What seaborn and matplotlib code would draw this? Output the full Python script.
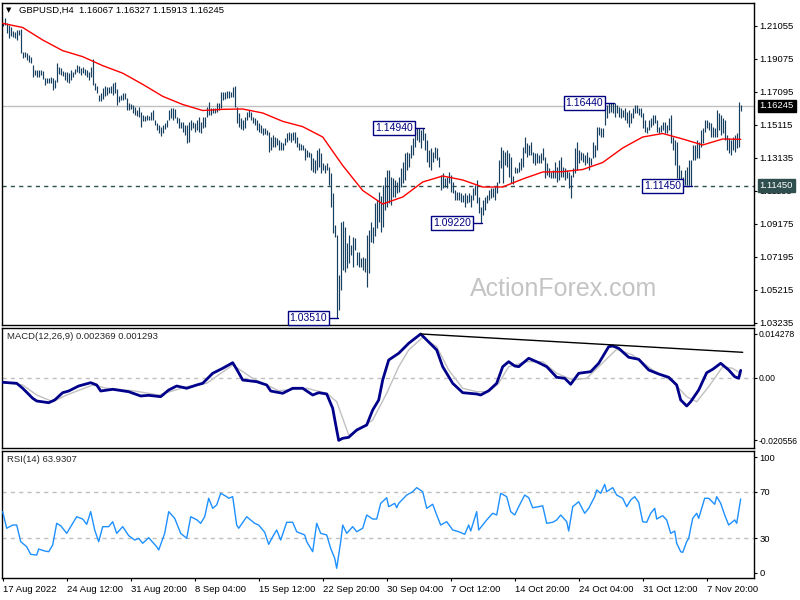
import numpy as np
import matplotlib
matplotlib.use("Agg")
import matplotlib.pyplot as plt
import seaborn as sns

# ------------------------------------------------
# DATA
# ------------------------------------------------
high = [
    1.2124, 1.2150, 1.2120, 1.2110, 1.2100, 1.2076, 1.2070, 1.2080, 1.2080, 1.2084,
    1.1950, 1.1950, 1.1940, 1.1930, 1.1920, 1.1870, 1.1840, 1.1840, 1.1840, 1.1840,
    1.1836, 1.1790, 1.1790, 1.1790, 1.1800, 1.1790, 1.1780, 1.1880, 1.1856, 1.1850,
    1.1836, 1.1830, 1.1830, 1.1820, 1.1840, 1.1830, 1.1844, 1.1870, 1.1864, 1.1850,
    1.1856, 1.1844, 1.1840, 1.1830, 1.1860, 1.1904, 1.1760, 1.1744, 1.1690, 1.1700,
    1.1730, 1.1744, 1.1736, 1.1736, 1.1744, 1.1760, 1.1770, 1.1724, 1.1684, 1.1690,
    1.1700, 1.1704, 1.1670, 1.1640, 1.1636, 1.1630, 1.1620, 1.1600, 1.1620, 1.1590,
    1.1570, 1.1564, 1.1570, 1.1564, 1.1590, 1.1600, 1.1540, 1.1520, 1.1510, 1.1500,
    1.1510, 1.1520, 1.1540, 1.1600, 1.1610, 1.1610, 1.1604, 1.1560, 1.1550, 1.1530,
    1.1530, 1.1510, 1.1510,
    1.1530, 1.1540, 1.1530, 1.1520, 1.1540, 1.1560, 1.1530, 1.1560, 1.1560, 1.1620,
    1.1650, 1.1610, 1.1610, 1.1610, 1.1640, 1.1640, 1.1710, 1.1710, 1.1710, 1.1716,
    1.1716, 1.1710, 1.1740, 1.1744, 1.1620, 1.1580, 1.1550, 1.1540, 1.1560, 1.1590,
    1.1600, 1.1590, 1.1560, 1.1550, 1.1540, 1.1520, 1.1510, 1.1490, 1.1490, 1.1480,
    1.1470, 1.1440, 1.1450, 1.1440, 1.1430, 1.1420, 1.1410, 1.1400, 1.1430, 1.1460,
    1.1470, 1.1460, 1.1470, 1.1470, 1.1440, 1.1400, 1.1396, 1.1390, 1.1370, 1.1360,
    1.1350, 1.1340, 1.1310, 1.1300, 1.1360, 1.1370, 1.1340, 1.1280, 1.1270, 1.1280,
    1.1260, 1.1220, 1.1100, 1.0910, 1.0850, 1.0610, 1.0930, 1.0936, 1.0900, 1.0800,
    1.0850, 1.0790, 1.0840, 1.0830, 1.0750, 1.0750, 1.0710, 1.0720, 1.0710, 1.0850,
    1.0880, 1.0930, 1.0900,
    1.1042, 1.1060, 1.1108, 1.1084, 1.1150, 1.1200, 1.1240, 1.1240, 1.1200, 1.1190,
    1.1180, 1.1170, 1.1200, 1.1250, 1.1290, 1.1340, 1.1350, 1.1340, 1.1390, 1.1430,
    1.1490, 1.1490, 1.1490, 1.1480, 1.1494, 1.1460, 1.1420, 1.1360, 1.1370, 1.1350,
    1.1380, 1.1370, 1.1320, 1.1210, 1.1220, 1.1190, 1.1200, 1.1230, 1.1210, 1.1170,
    1.1120, 1.1110, 1.1110, 1.1100, 1.1090, 1.1100, 1.1090, 1.1100, 1.1090, 1.1130,
    1.1150, 1.1180, 1.1080, 1.1020, 1.1060, 1.1080, 1.1090, 1.1120, 1.1130, 1.1130,
    1.1140, 1.1170, 1.1300, 1.1380, 1.1360, 1.1350, 1.1360, 1.1340, 1.1320, 1.1204,
    1.1260, 1.1250, 1.1290, 1.1310, 1.1380, 1.1440, 1.1400, 1.1390, 1.1410, 1.1350,
    1.1340, 1.1340, 1.1330, 1.1340, 1.1370, 1.1320, 1.1280, 1.1250, 1.1230, 1.1240,
    1.1290, 1.1260,
    1.1300, 1.1320, 1.1260, 1.1250, 1.1240, 1.1230, 1.1210, 1.1250, 1.1370, 1.1410,
    1.1360, 1.1350, 1.1340, 1.1330, 1.1350, 1.1320, 1.1310, 1.1410, 1.1390, 1.1500,
    1.1500, 1.1490, 1.1490, 1.1610, 1.1630, 1.1640, 1.1642, 1.1644, 1.1640, 1.1630,
    1.1620, 1.1610, 1.1600, 1.1610, 1.1590, 1.1600, 1.1580, 1.1610, 1.1630, 1.1630,
    1.1610, 1.1610, 1.1580, 1.1540, 1.1500, 1.1540, 1.1550, 1.1570, 1.1570, 1.1540,
    1.1500, 1.1510, 1.1530, 1.1530, 1.1510, 1.1550, 1.1570, 1.1440, 1.1420, 1.1410,
    1.1270, 1.1240, 1.1200, 1.1240, 1.1260, 1.1300, 1.1300, 1.1390, 1.1390, 1.1420,
    1.1410, 1.1480, 1.1490, 1.1540, 1.1540, 1.1530, 1.1520, 1.1500, 1.1490, 1.1600,
    1.1580, 1.1570, 1.1552, 1.1540, 1.1450, 1.1432, 1.1420, 1.1438, 1.1450, 1.1462,
    1.1650, 1.16327,
]
low = [
    1.2104, 1.2110, 1.2060, 1.2030, 1.2044, 1.2040, 1.2030, 1.2020, 1.2050, 1.1940,
    1.1910, 1.1920, 1.1900, 1.1890, 1.1880, 1.1800, 1.1810, 1.1800, 1.1800, 1.1810,
    1.1784, 1.1750, 1.1760, 1.1760, 1.1760, 1.1720, 1.1730, 1.1770, 1.1816, 1.1810,
    1.1804, 1.1780, 1.1770, 1.1760, 1.1780, 1.1800, 1.1816, 1.1830, 1.1820, 1.1810,
    1.1820, 1.1810, 1.1800, 1.1780, 1.1800, 1.1750, 1.1720, 1.1700, 1.1656, 1.1656,
    1.1664, 1.1684, 1.1690, 1.1700, 1.1700, 1.1690, 1.1700, 1.1630, 1.1650, 1.1660,
    1.1660, 1.1664, 1.1600, 1.1600, 1.1604, 1.1580, 1.1570, 1.1564, 1.1560, 1.1500,
    1.1536, 1.1536, 1.1540, 1.1540, 1.1540, 1.1540, 1.1510, 1.1480, 1.1460, 1.1444,
    1.1460, 1.1484, 1.1500, 1.1540, 1.1550, 1.1540, 1.1550, 1.1520, 1.1490, 1.1490,
    1.1470, 1.1450, 1.1404,
    1.1410, 1.1480, 1.1490, 1.1470, 1.1480, 1.1470, 1.1460, 1.1490, 1.1500, 1.1560,
    1.1570, 1.1570, 1.1580, 1.1580, 1.1590, 1.1600, 1.1610, 1.1660, 1.1664, 1.1670,
    1.1670, 1.1680, 1.1680, 1.1620, 1.1520, 1.1500, 1.1484, 1.1480, 1.1490, 1.1540,
    1.1560, 1.1540, 1.1520, 1.1510, 1.1480, 1.1470, 1.1460, 1.1450, 1.1456, 1.1450,
    1.1350, 1.1360, 1.1380, 1.1380, 1.1390, 1.1360, 1.1360, 1.1360, 1.1390, 1.1410,
    1.1420, 1.1410, 1.1420, 1.1400, 1.1380, 1.1360, 1.1360, 1.1360, 1.1300, 1.1320,
    1.1320, 1.1240, 1.1230, 1.1220, 1.1240, 1.1260, 1.1220, 1.1240, 1.1220, 1.1240,
    1.1150, 1.1020, 1.0860, 1.0840, 1.0351, 1.0400, 1.0520, 1.0640, 1.0630, 1.0650,
    1.0680, 1.0730, 1.0660, 1.0760, 1.0670, 1.0660, 1.0660, 1.0640, 1.0630, 1.0540,
    1.0620, 1.0810, 1.0800,
    1.0844, 1.0892, 1.0928, 1.0868, 1.0900, 1.1000, 1.1020, 1.1042, 1.1030, 1.1080,
    1.1080, 1.1100, 1.1110, 1.1140, 1.1160, 1.1180, 1.1240, 1.1260, 1.1310, 1.1330,
    1.1380, 1.1420, 1.1410, 1.1370, 1.1420, 1.1360, 1.1290, 1.1260, 1.1240, 1.1290,
    1.1310, 1.1300, 1.1260, 1.1120, 1.1130, 1.1140, 1.1130, 1.1160, 1.1110, 1.1100,
    1.1060, 1.1060, 1.1060, 1.1050, 1.1050, 1.1020, 1.1040, 1.1050, 1.1020, 1.1060,
    1.1090, 1.1040, 1.0980, 1.0922, 1.0970, 1.1000, 1.1040, 1.1060, 1.1070, 1.1080,
    1.1060, 1.1100, 1.1160, 1.1250, 1.1160, 1.1270, 1.1260, 1.1200, 1.1160, 1.1156,
    1.1220, 1.1220, 1.1230, 1.1240, 1.1260, 1.1340, 1.1320, 1.1330, 1.1330, 1.1280,
    1.1270, 1.1280, 1.1280, 1.1280, 1.1300, 1.1190, 1.1210, 1.1200, 1.1190, 1.1190,
    1.1190, 1.1170,
    1.1180, 1.1200, 1.1200, 1.1180, 1.1190, 1.1130, 1.1070, 1.1200, 1.1220, 1.1240,
    1.1280, 1.1300, 1.1290, 1.1270, 1.1280, 1.1240, 1.1270, 1.1310, 1.1320, 1.1360,
    1.1450, 1.1440, 1.1440, 1.1510, 1.1550, 1.1580, 1.1590, 1.1580, 1.1560, 1.1580,
    1.1560, 1.1550, 1.1560, 1.1540, 1.1520, 1.1500, 1.1520, 1.1550, 1.1580, 1.1580,
    1.1570, 1.1560, 1.1490, 1.1470, 1.1460, 1.1480, 1.1500, 1.1510, 1.1520, 1.1470,
    1.1460, 1.1470, 1.1480, 1.1460, 1.1460, 1.1480, 1.1400, 1.1360, 1.1270, 1.1190,
    1.1150, 1.1180, 1.1150, 1.1148, 1.1150, 1.1152, 1.1145, 1.1300, 1.1300, 1.1310,
    1.1310, 1.1380, 1.1400, 1.1470, 1.1490, 1.1480, 1.1440, 1.1440, 1.1440, 1.1440,
    1.1480, 1.1450, 1.1462, 1.1420, 1.1360, 1.1342, 1.1330, 1.1360, 1.1348, 1.1372,
    1.1378, 1.15913,
]

# red moving average, sampled every 10 bars
ma_idx = list(range(0, 361, 10)) + [369]
ma_val = [1.2120, 1.2095, 1.2020, 1.1956, 1.1920, 1.1866, 1.1821, 1.1754, 1.1682, 1.1633,
          1.1597, 1.1604, 1.1606, 1.1582, 1.1532, 1.1500, 1.1438, 1.1267, 1.1117, 1.1036,
          1.1078, 1.1168, 1.1204, 1.1180, 1.1138, 1.1138, 1.1186, 1.1228, 1.1230, 1.1243,
          1.1285, 1.1372, 1.1438, 1.1459, 1.1426, 1.1390, 1.1426, 1.1424]

# MACD main line
macd_idx = [0, 7, 10, 15, 17, 23, 26, 30, 33, 38, 44, 47, 49, 55, 63, 69, 73, 79, 83, 87,
            92, 97, 100, 105, 110, 115, 117, 120, 127, 132, 134, 140, 145, 150, 155, 158, 162, 165, 167, 168,
            170, 173, 177, 182, 185, 188, 190, 193, 198, 203, 209, 212, 217, 220, 225, 230, 237, 239, 243, 247,
            250, 253, 256, 258, 263, 268, 272, 277, 281, 284, 288, 294, 298, 303, 305, 308, 313, 318, 323, 328,
            333, 337, 339, 342, 344, 348, 352, 355, 359, 363, 366, 368, 369]
macd_val = [-0.00154, -0.00187, -0.00350, -0.00678, -0.00766, -0.00822, -0.00733, -0.00494, -0.00439, -0.00275,
            -0.00167, -0.00242, -0.00439, -0.00383, -0.00462, -0.00602, -0.00580, -0.00625, -0.00406, -0.00275,
            -0.00350, -0.00242, -0.00187, 0.00141, 0.00304, 0.00488, 0.00272, -0.00079, -0.00134, -0.00242,
            -0.00439, -0.00514, -0.00350, -0.00350, -0.00570, -0.00494, -0.00537, -0.01005, -0.01716, -0.020556,
            -0.01987, -0.01955, -0.01716, -0.01552, -0.01061, -0.00733, -0.00079, 0.00576, 0.00796, 0.01123,
            0.014278, 0.01231, 0.00904, 0.00357, -0.00187, -0.00494, -0.00537, -0.00570, -0.00429, -0.00187,
            0.00357, 0.00521, 0.00380, 0.00357, 0.00632, 0.00488, 0.00357, 0.00010, -0.00023, -0.00219,
            0.00141, 0.00193, 0.00468, 0.01012, 0.01035, 0.00959, 0.00665, 0.00599, 0.00249, 0.00118,
            0.00010, -0.00242, -0.00733, -0.00930, -0.00789, -0.00406, 0.00160, 0.00272, 0.00468, 0.00249,
            0.00029, -0.00023, 0.002369]

# MACD signal line
sig_idx = [0, 10, 17, 25, 32, 45, 52, 65, 78, 92, 102, 115, 125, 138, 152, 162, 167, 173, 178, 185,
           192, 198, 203, 210, 217, 223, 230, 237, 243, 248, 253, 262, 270, 277, 285, 292, 298, 307, 315, 325,
           335, 342, 347, 353, 360, 365, 369]
sig_val = [-0.00154, -0.00242, -0.00570, -0.00789, -0.00570, -0.00242, -0.00350, -0.00429, -0.00570, -0.00298,
           -0.00187, 0.00413, -0.00023, -0.00429, -0.00350, -0.00514, -0.00789, -0.01879, -0.01716, -0.01388,
           -0.00514, 0.00357, 0.00904, 0.01319, 0.01012, 0.00249, -0.00350, -0.00462, -0.00462, -0.00187,
           0.00357, 0.00521, 0.00521, 0.00141, -0.00079, -0.00023, 0.00357, 0.00927, 0.00740, 0.00249,
           -0.00134, -0.00625, -0.00789, -0.00298, 0.00357, 0.00304, 0.001293]

# hand drawn trendline on MACD peaks
trend_idx = [209, 370]
trend_val = [0.014278, 0.00828]

# RSI(14)
rsi_idx = [0, 2, 5, 7, 9, 12, 14, 17, 18, 21, 23, 25, 27, 29, 32, 37, 40, 42, 44, 46,
           48, 50, 53, 55, 57, 60, 63, 66, 68, 70, 73, 77, 78, 81, 83, 86, 89, 92, 94, 97,
           99, 101, 103, 105, 107, 109, 112, 113, 115, 117, 118, 122, 126, 128, 131, 133, 135, 137, 139, 142,
           145, 147, 151, 152, 155, 157, 159, 162, 164, 166, 167, 169, 170, 172, 175, 177, 180, 182, 185, 187,
           189, 192, 193, 196, 197,
           198, 202, 205, 207, 210, 212, 215, 217, 219, 222, 225, 228, 231, 233, 234, 237, 238, 242, 245, 247,
           249, 252, 254, 256, 258, 261, 263, 265, 268, 270, 272, 275, 277, 279, 282, 283, 285, 288, 291, 293,
           296, 297, 299, 301, 302, 305, 307, 310, 312, 314, 316, 318, 320, 322, 324, 326, 327, 330, 332, 334,
           336, 337, 339, 340, 342, 343, 345, 347, 348, 351, 353, 356, 357, 359, 361, 363, 366, 367, 369]
rsi_val = [52.9, 38.5, 41.3, 41.3, 26.9, 22.5, 15.9, 15.3, 20.5, 18.8, 18.2, 24, 42.8, 40.7, 34.1, 48.5, 46.5, 41.9, 52.9, 37,
           26.9, 39.9, 39.9, 44.2, 34.1, 39.9, 32.1, 28.3, 29.7, 25.5, 30.3, 22.5, 19.7, 34.1, 52.9, 47.1, 34.1, 29.8, 48.5, 45.9,
           42.8, 48.5, 64.5, 55.8, 58.7, 68.8, 65.9, 64.5, 65.9, 41.3, 38.5, 48.5, 42.8, 41.3, 35, 24.6, 31.2, 37, 28.3, 43.7,
           43.7, 35.5, 32.7, 26.9, 18.2, 42.8, 34.1, 32.7, 21.1, 12.5, 3.8, 26.9, 41.3, 34.1, 39.9, 35.5, 38.5, 50, 46.5, 46.5,
           60.1, 65, 57.2, 60.1, 56.3,
           60.1, 67.3, 70.2, 73.7, 70.2, 55.8, 59.3, 50, 41.3, 44.2, 37, 35.5, 33.3, 41.3, 36.1, 52.9, 37, 45.7, 51.5, 50,
           68.8, 65.9, 52.9, 50, 57.2, 67.3, 65, 56.3, 57.2, 58, 42.8, 43.7, 45.7, 50, 44.2, 36.1, 57.2, 61.5, 51.5, 55.8,
           65.9, 71.7, 68.8, 76.6, 70.2, 73.7, 67.3, 64.5, 57.2, 63, 65.9, 61, 44.2, 43.7, 51.5, 55.8, 46.5, 49.4, 45.7, 34.1,
           36.1, 25.5, 18.2, 17.6, 26.9, 29.8, 47.1, 51.5, 47.1, 64.5, 64.5, 59.3, 65.9, 60.1, 50, 41.3, 45.7, 42.8, 63.93]

price_ticks = [1.21055, 1.19075, 1.17095, 1.15115, 1.13135, 1.11155, 1.09175, 1.07195, 1.05215, 1.03235]
macd_ticks = [0.014278, 0.0, -0.020556]
macd_tick_labels = ["0.014278", "0.00", "-0.020556"]
rsi_ticks = [100, 70, 30, 0]
time_ticks = list(range(0, 353, 32))
time_labels = ["17 Aug 2022", "24 Aug 12:00", "31 Aug 20:00", "8 Sep 04:00", "15 Sep 12:00",
               "22 Sep 20:00", "30 Sep 04:00", "7 Oct 12:00", "14 Oct 20:00", "24 Oct 04:00",
               "31 Oct 12:00", "7 Nov 20:00"]

swings = [("low", 1.0351), ("high", 1.1494), ("low", 1.0922), ("high", 1.1644), ("low", 1.1145)]
last_close = 1.16245
support = 1.1145

# ------------------------------------------------
# FIGURE
# ------------------------------------------------
sns.set_theme(style="white")
plt.rcParams['font.family'] = ['Liberation Sans', 'DejaVu Sans']
plt.rcParams['font.size'] = 7

W, H = 800, 600
fig = plt.figure(figsize=(8, 6), dpi=100)
fig.patch.set_facecolor("white")


def px_axes(left, top, right, bottom):
    return fig.add_axes([left / W, 1 - bottom / H, (right - left) / W, (bottom - top) / H])


ax = px_axes(2, 2.5, 754, 325)
ax_macd = px_axes(2, 327.5, 754, 448)
ax_rsi = px_axes(2, 450.5, 754, 578)

XLIM = (-0.35, 375.65)
for a in (ax, ax_macd, ax_rsi):
    a.set_xlim(*XLIM)
    a.set_facecolor("white")
    for s in a.spines.values():
        s.set_color("black")
        s.set_linewidth(1)
    a.yaxis.tick_right()
    a.tick_params(axis='y', direction='out', length=2.5, width=0.8, pad=1.2,
                  labelsize=6.8, colors='black', right=True, left=False)
    a.set_xticks([])

bar_x = np.arange(len(high))
high = np.array(high)
low = np.array(low)

# ---- main price panel ----
ax.set_ylim(1.2245, 1.0310)
ax.invert_yaxis()
ax.axhline(last_close, color="#c0c0c0", lw=1, zorder=1)
ax.axhline(support, color="#2f4f4f", lw=1, ls=(0, (3, 3)), zorder=1)
ax.vlines(bar_x, low, high, color="#173f5f", lw=0.85, zorder=2)
sns.lineplot(x=ma_idx, y=ma_val, ax=ax, color="red", linewidth=1, zorder=3)
ax.set_yticks(price_ticks)
ax.set_yticklabels([f"{p:.5f}" for p in price_ticks])
ax.set_xlabel("")
ax.set_ylabel("")

for kind, level in swings:
    src = low if kind == "low" else high
    i = int(np.argmin(np.abs(src - level)))
    ax.plot([i - 4.6, i + 0.5], [level, level], color="#000080", lw=1, zorder=4)
    ax.text(i - 4.8, level, f"{level:.5f}", ha="right", va="center", color="#000080",
            fontsize=7.5, zorder=5,
            bbox=dict(boxstyle="square,pad=0.18", fc="white", ec="#000080", lw=1))

ytr = ax.get_yaxis_transform()
ax.text(1.0075, last_close, f"{last_close:.5f}", transform=ytr, ha="left", va="center",
        color="white", fontsize=6.8, clip_on=False, zorder=6,
        bbox=dict(boxstyle="square,pad=0.2", fc="black", ec="black"))
ax.text(1.0075, support, f"{support:.5f}", transform=ytr, ha="left", va="center",
        color="white", fontsize=6.8, clip_on=False, zorder=6,
        bbox=dict(boxstyle="square,pad=0.2", fc="#2f4f4f", ec="#2f4f4f"))

fig.text(6 / W, 1 - 10 / H, "\u25bc", fontsize=5, va="center", color="black",
         family=["DejaVu Sans"])
fig.text(19 / W, 1 - 10 / H, "GBPUSD,H4  1.16067 1.16327 1.15913 1.16245",
         fontsize=6.8, va="center", color="black")
fig.text(564 / W, 1 - 289 / H, "ActionForex.com", fontsize=18, color="#c4c4c4",
         ha="center", va="center")

# ---- MACD panel ----
ax_macd.set_ylim(-0.02305, 0.01640)
ax_macd.axhline(0, color="#c0c0c0", lw=1, ls=(0, (3, 3)), zorder=1)
sns.lineplot(x=sig_idx, y=sig_val, ax=ax_macd, color="#c0c0c0", linewidth=1, zorder=2)
sns.lineplot(x=macd_idx, y=macd_val, ax=ax_macd, color="#00008b", linewidth=2, zorder=3)
sns.lineplot(x=trend_idx, y=trend_val, ax=ax_macd, color="black", linewidth=1, zorder=4)
ax_macd.set_yticks(macd_ticks)
ax_macd.set_yticklabels(macd_tick_labels)
ax_macd.tick_params(axis='y', labelsize=6.2, pad=0.8)
ax_macd.set_xlabel("")
ax_macd.set_ylabel("")
fig.text(7 / W, 1 - 336 / H, "MACD(12,26,9) 0.002369 0.001293", fontsize=6.8, va="center")

# ---- RSI panel ----
ax_rsi.set_ylim(-4.6, 105.9)
for lvl in (70, 30):
    ax_rsi.axhline(lvl, color="#c0c0c0", lw=1, ls=(0, (3, 3)), zorder=1)
sns.lineplot(x=rsi_idx, y=rsi_val, ax=ax_rsi, color="#1e90ff", linewidth=1, zorder=3)
ax_rsi.set_yticks(rsi_ticks)
ax_rsi.set_yticklabels([str(v) for v in rsi_ticks])
ax_rsi.set_xlabel("")
ax_rsi.set_ylabel("")
ax_rsi.set_xticks(time_ticks)
ax_rsi.set_xticklabels(time_labels)
ax_rsi.tick_params(axis='x', direction='out', length=2.5, width=0.8, pad=2.5,
                   labelsize=6.8, colors='black', bottom=True)
plt.setp(ax_rsi.get_xticklabels(), ha="left")
fig.text(7 / W, 1 - 459 / H, "RSI(14) 63.9307", fontsize=6.8, va="center")

fig.savefig("out.png", dpi=100)
